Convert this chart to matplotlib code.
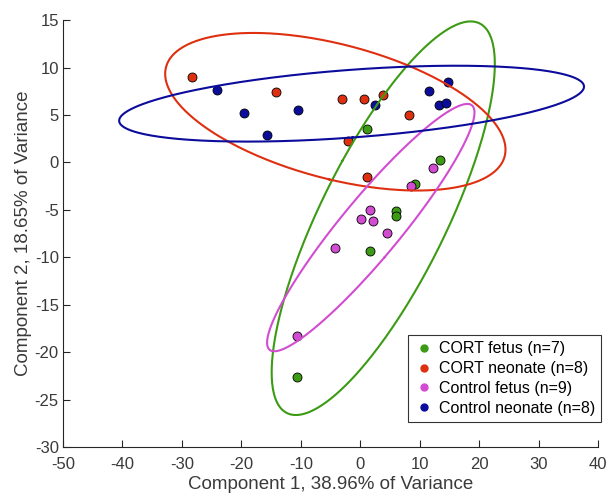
import numpy as np
import matplotlib
matplotlib.use("Agg")
import matplotlib.pyplot as plt

plt.rcParams['font.family'] = ['Liberation Sans', 'DejaVu Sans']
plt.rcParams['axes.unicode_minus'] = False

labels = ["CORT fetus (n=7)", "CORT neonate (n=8)", "Control fetus (n=9)", "Control neonate (n=8)"]
colors = ["#3c9a14", "#de3010", "#d24cd2", "#0c0c9c"]

cort_fetus_x = [1.2, 13.5, 9.2, 6.1, 6.1, 1.6, -10.6]
cort_fetus_y = [3.5, 0.3, -2.3, -5.1, -5.7, -9.3, -22.6]

cort_neonate_x = [-28.3, -14.1, -3.0, 0.7, 3.9, 8.2, -2.1, 1.2]
cort_neonate_y = [9.0, 7.4, 6.7, 6.7, 7.1, 5.0, 2.3, -1.5]

control_fetus_x = [12.2, 8.5, 1.7, 0.1, 2.1, 4.5, -4.2, -10.7]
control_fetus_y = [-0.6, -2.5, -5.0, -6.0, -6.2, -7.4, -9.0, -18.3]

control_neonate_x = [-24.1, -19.5, -10.4, -15.7, 2.5, 11.6, 13.2, 14.5, 14.8]
control_neonate_y = [7.6, 5.2, 5.5, 2.9, 6.1, 7.5, 6.1, 6.3, 8.5]

groups = [(cort_fetus_x, cort_fetus_y), (cort_neonate_x, cort_neonate_y),
          (control_fetus_x, control_fetus_y), (control_neonate_x, control_neonate_y)]

xticks = [-50, -40, -30, -20, -10, 0, 10, 20, 30, 40]
yticks = [-30, -25, -20, -15, -10, -5, 0, 5, 10, 15]

fig = plt.figure(figsize=(6.08, 4.93), dpi=100)
ax = fig.add_axes([0.1036, 0.0933, 0.88, 0.866])

k = np.sqrt(-2 * np.log(0.05))
t = np.linspace(0, 2 * np.pi, 400)
for (gx, gy), c, lab in zip(groups, colors, labels):
    gx = np.asarray(gx); gy = np.asarray(gy)
    ax.scatter(gx, gy, s=42, c=c, edgecolors='black', linewidths=0.6, zorder=3)
    cov = np.cov(gx, gy)
    vals, vecs = np.linalg.eigh(cov)
    circ = np.vstack([np.cos(t), np.sin(t)])
    pts = vecs @ (np.sqrt(vals)[:, None] * circ) * k
    ax.plot(gx.mean() + pts[0], gy.mean() + pts[1], color=c, lw=1.5, zorder=4)

ax.set_xlim(-50, 40)
ax.set_ylim(-30, 15)
ax.set_xticks(xticks)
ax.set_yticks(yticks)
for s in ['top', 'right']:
    ax.spines[s].set_visible(False)
for s in ['left', 'bottom']:
    ax.spines[s].set_color('#262626')
    ax.spines[s].set_linewidth(0.8)
ax.tick_params(direction='in', length=5, width=0.8, colors='#262626', labelsize=12,
               labelcolor='#3a3a3a', pad=3)
ax.tick_params(axis='x', pad=7)
ax.set_xlabel("Component 1, 38.96% of Variance", fontsize=13.5, color='#3a3a3a', labelpad=3)
ax.set_ylabel("Component 2, 18.65% of Variance", fontsize=13.5, color='#3a3a3a', labelpad=2)

leg = ax.legend(handles=[plt.Line2D([], [], marker='o', ls='', color=c, markersize=5) for c in colors],
                labels=labels, loc='lower right', bbox_to_anchor=(1.006, 0.058), fontsize=11.5,
                frameon=True, fancybox=False, edgecolor='black', handletextpad=0.3,
                borderpad=0.4, labelspacing=0.3, handlelength=1.2, borderaxespad=0.0)
leg.get_frame().set_linewidth(0.8)

fig.savefig("out.png", dpi=100)
